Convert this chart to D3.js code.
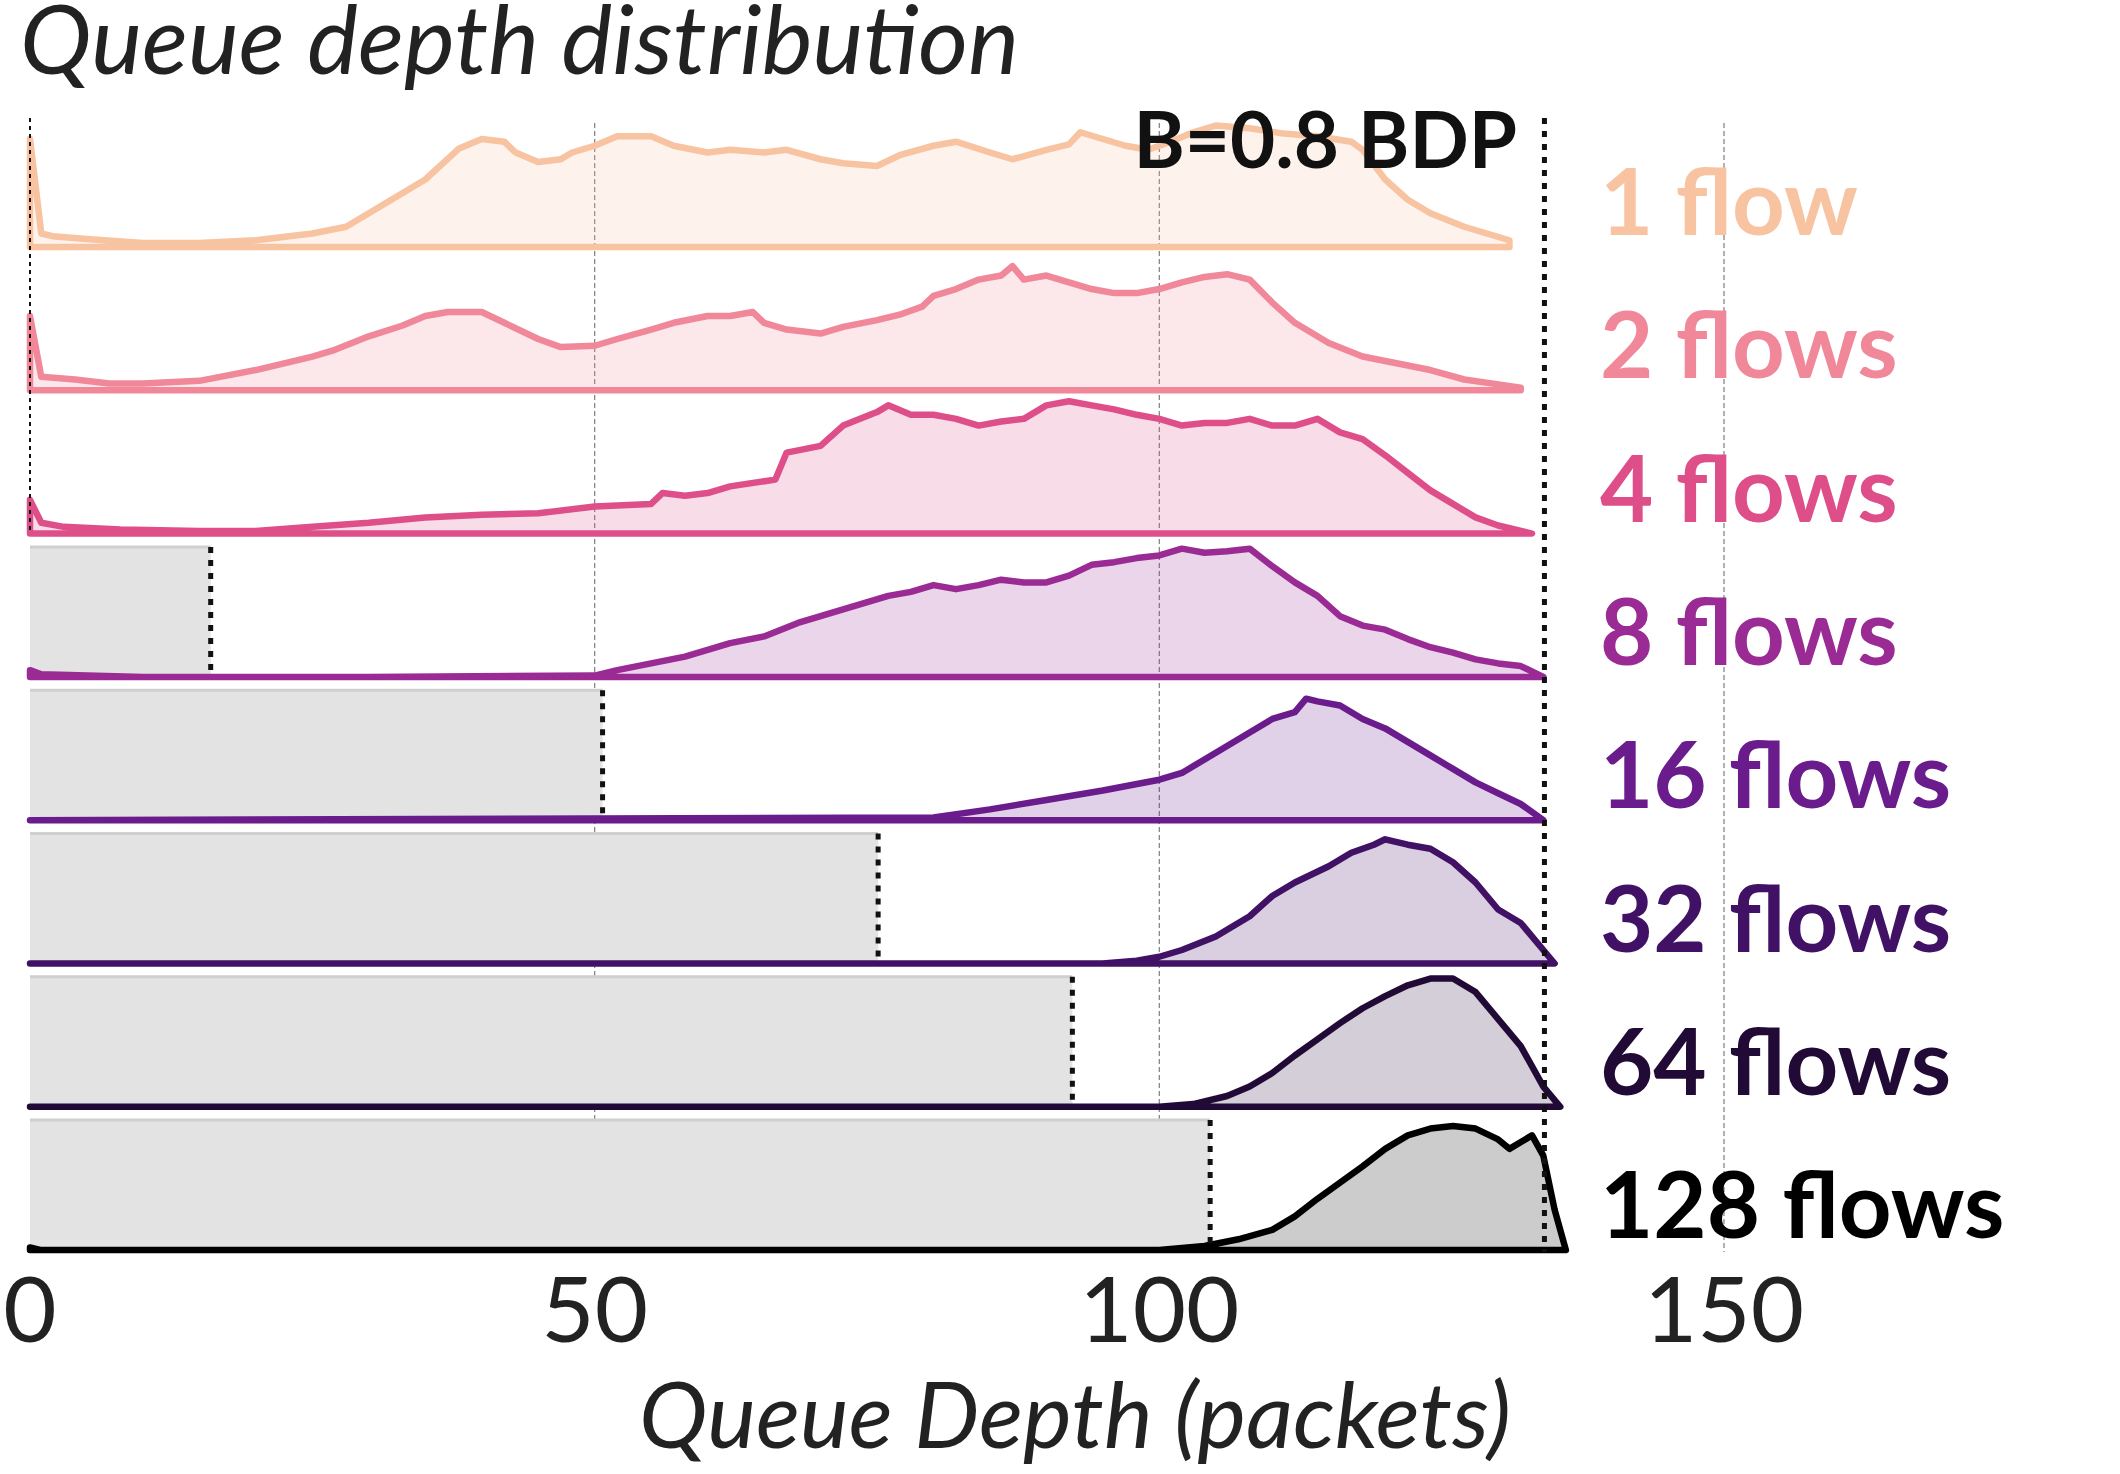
<!DOCTYPE html>
<html><head><meta charset="utf-8">
<script src="https://cdn.jsdelivr.net/npm/d3@7"></script>
<style>body{margin:0;background:#fff}svg{font-family:Lato,sans-serif}</style>
</head><body>
<svg id="c" width="2120" height="1474"></svg>
<script>
var labels = ['1 flow','2 flows','4 flows','8 flows','16 flows','32 flows','64 flows','128 flows'];
var colors = ['#f8c3a0','#f0889a','#de4f8a','#9a2b94','#6a1b8c','#401164','#220a36','#000000'];
var lowerBounds = [null,null,null,16,50.7,75.1,92.3,104.5];
var bufferB = 134.1;
var ticks = [0,50,100,150];
var dens = [
 [[0,80],[1,10],[2,8],[5,6],[10,3],[15,3],[20,5],[25,10],[28,15],[30,25],[33,40],[35,50],[38,73],[40,80],[42,78],[43,70],[45,63],[47,65],[48,70],[50,75],[52,82],[55,82],[57,75],[60,70],[62,72],[65,70],[67,72],[70,65],[72,62],[75,60],[77,68],[80,75],[82,78],[85,70],[87,65],[90,72],[92,76],[93,85],[95,80],[97,75],[99,72],[101,78],[103,85],[105,90],[108,88],[111,84],[114,82],[117,78],[118,72],[120,50],[122,35],[124,25],[127,15],[131,5]],
 [[0,55],[1,10],[4,8],[7,5],[10,5],[15,7],[20,15],[25,25],[27,30],[30,40],[33,48],[35,55],[37,58],[40,58],[42,50],[45,38],[47,32],[50,33],[52,38],[55,45],[57,50],[60,55],[62,55],[64,58],[65,50],[67,45],[70,42],[72,47],[75,52],[77,56],[79,62],[80,70],[82,75],[84,82],[86,85],[87,92],[88,82],[90,85],[92,80],[94,75],[96,72],[98,72],[100,75],[102,80],[104,84],[106,86],[108,82],[110,65],[112,50],[115,35],[118,25],[121,20],[124,15],[127,8],[132,2]],
 [[0,25],[1,8],[3,5],[8,3],[15,2],[20,2],[25,5],[30,8],[35,12],[40,14],[45,15],[50,20],[55,22],[56,30],[58,28],[60,30],[62,35],[66,40],[67,60],[70,65],[72,80],[75,90],[76,95],[78,88],[80,88],[82,85],[84,80],[86,83],[88,85],[90,95],[92,98],[94,95],[96,92],[98,88],[100,85],[102,80],[104,82],[106,82],[108,85],[110,80],[112,80],[114,85],[116,75],[118,70],[120,58],[122,45],[124,32],[126,22],[128,12],[130,6],[133,0]],
 [[0,5],[1,2],[10,0],[30,0],[50,1],[52,5],[55,10],[58,15],[62,25],[65,30],[68,40],[70,45],[72,50],[74,55],[76,60],[78,63],[80,68],[82,65],[84,68],[86,72],[88,70],[90,70],[92,75],[94,83],[96,85],[98,88],[100,90],[102,95],[104,92],[106,93],[108,95],[110,82],[112,70],[114,60],[116,45],[118,38],[120,35],[122,28],[124,22],[126,18],[128,13],[130,10],[132,8],[134,0]],
 [[0,0],[80,2],[85,8],[90,15],[95,22],[100,30],[102,35],[104,45],[106,55],[108,65],[110,75],[112,80],[113,90],[114,88],[116,85],[118,75],[120,68],[122,58],[124,48],[126,38],[128,28],[130,20],[132,12],[134,0]],
 [[0,0],[95,0],[98,2],[100,5],[102,10],[105,20],[108,35],[110,50],[112,60],[115,72],[117,82],[119,88],[120,92],[122,88],[124,85],[126,75],[128,60],[130,40],[132,30],[134,10],[135,0]],
 [[0,0],[100,0],[103,2],[106,8],[108,15],[110,25],[112,38],[114,50],[116,62],[118,73],[120,82],[122,90],[124,95],[126,95],[128,85],[130,65],[132,45],[134,15],[135.5,0]],
 [[0,2],[1,0],[100,0],[104,3],[107,8],[110,15],[112,25],[114,38],[116,50],[118,62],[120,75],[122,85],[124,90],[126,92],[128,90],[130,82],[131,75],[133,85],[134,70],[135,30],[136,0]]
];

var svg = d3.select('#c');
var x = d3.scaleLinear().domain([0,150]).range([30,1724]);
var h = d3.scaleLinear().domain([0,100]).range([0,135]);
var base = function(i){ return 247 + i*143.3; };
var top0 = 118, bottom = 1252;

svg.selectAll('.grid').data([50,100,150]).enter().append('line')
  .attr('x1',d=>x(d)).attr('x2',d=>x(d)).attr('y1',top0+5).attr('y2',bottom)
  .attr('stroke','#888').attr('stroke-width',1.3).attr('stroke-dasharray','5,3');

dens.forEach(function(d,i){
  var lb = lowerBounds[i]; if(lb==null) return;
  var y0 = base(i)-130;
  svg.append('rect').attr('x',x(0)).attr('y',y0).attr('width',x(lb)-x(0)).attr('height',130)
    .attr('fill','#e3e3e3');
  svg.append('line').attr('x1',x(0)).attr('x2',x(lb)).attr('y1',y0).attr('y2',y0)
    .attr('stroke','#cfcfcf').attr('stroke-width',3);
});

var line = d3.line().curve(d3.curveLinear);
dens.forEach(function(d,i){
  var b = base(i);
  var pts = d.map(p=>[x(p[0]), b-h(p[1])]);
  var last = d[d.length-1][0];
  pts.push([x(last), b]); pts.push([x(0), b]);
  svg.append('path').attr('d', line(pts)+'Z')
    .attr('fill', colors[i]).attr('fill-opacity', 0.2)
    .attr('stroke', colors[i]).attr('stroke-width',6.5).attr('stroke-linejoin','round');
  var lb = lowerBounds[i];
  if(lb!=null){
    svg.append('line').attr('x1',x(lb)).attr('x2',x(lb)).attr('y1',b-130).attr('y2',b)
      .attr('stroke','#111').attr('stroke-width',5).attr('stroke-dasharray','6,7');
  }
  svg.append('text').attr('x',1600).attr('y',b-12).attr('font-size',92).attr('font-weight',700)
    .attr('fill',colors[i]).text(labels[i]);
});

svg.append('line').attr('x1',x(0)).attr('x2',x(0)).attr('y1',top0).attr('y2',base(2))
  .attr('stroke','#111').attr('stroke-width',2).attr('stroke-dasharray','4,4');
svg.append('line').attr('x1',x(bufferB)).attr('x2',x(bufferB)).attr('y1',top0).attr('y2',bottom)
  .attr('stroke','#111').attr('stroke-width',5).attr('stroke-dasharray','6,7');
svg.append('text').attr('x',1517).attr('y',168).attr('text-anchor','end').attr('font-size',78)
  .attr('font-weight',700).attr('fill','#111').text('B=0.8 BDP');

svg.selectAll('.tk').data(ticks).enter().append('text')
  .attr('x',d=>x(d)).attr('y',1342).attr('text-anchor','middle').attr('font-size',92)
  .attr('fill','#222').text(d=>d);
svg.append('text').attr('x',1075).attr('y',1448).attr('text-anchor','middle').attr('font-size',92)
  .attr('font-style','italic').attr('fill','#222').text('Queue Depth (packets)');
svg.append('text').attr('x',20).attr('y',74).attr('font-size',96)
  .attr('font-style','italic').attr('fill','#222').text('Queue depth distribution');
</script>
</body></html>
